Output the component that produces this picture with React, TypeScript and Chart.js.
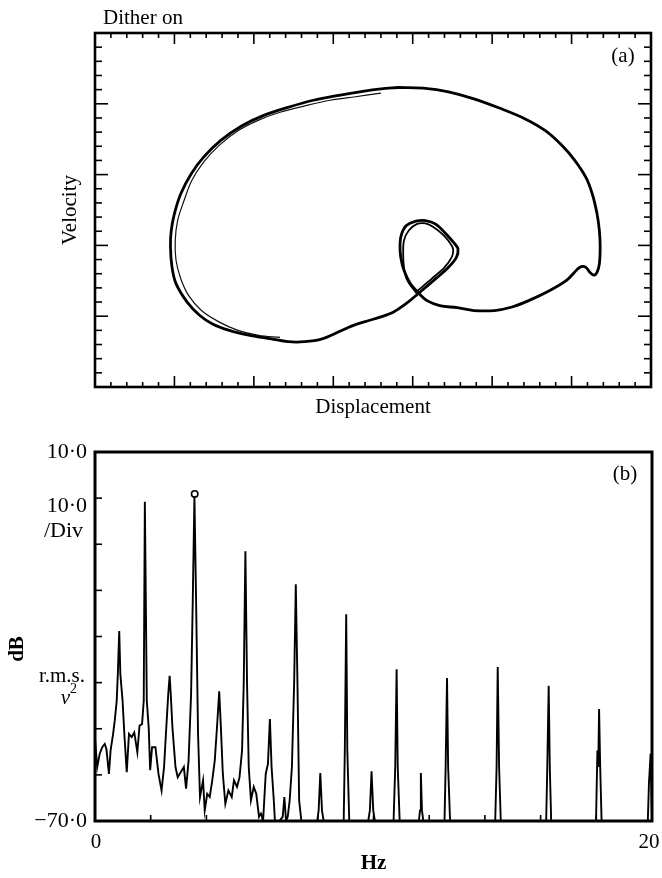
import React, { useEffect, useRef } from 'react';
import { Chart, registerables } from 'chart.js';

Chart.register(...registerables);

// ---------- Panel (a): phase portrait (displacement in divisions, velocity in divisions)
const loopX = [3.81, 4.13, 4.45, 4.77, 5.09, 5.41, 5.67, 5.88, 6.04, 6.18, 6.26, 6.32, 6.35, 6.36, 6.35, 6.32, 6.28, 6.23, 6.18, 6.12, 6.07, 5.94, 5.72, 5.46, 5.25, 5.03, 4.77, 4.56, 4.34, 4.18, 4.08, 3.97, 3.89, 3.85, 3.84, 3.86, 3.92, 4.03, 4.16, 4.29, 4.42, 4.53, 4.57, 4.55, 4.45, 4.29, 4.08, 3.92, 3.76, 3.60, 3.39, 3.23, 3.07, 2.86, 2.64, 2.43, 2.22, 1.95, 1.69, 1.48, 1.32, 1.16, 1.02, 0.97, 0.95, 0.96, 1.00, 1.08, 1.21, 1.37, 1.58, 1.85, 2.11, 2.43, 2.75, 3.07, 3.39, 3.60, 3.81];
const loopY = [4.23, 4.22, 4.17, 4.07, 3.94, 3.79, 3.62, 3.41, 3.20, 2.96, 2.73, 2.45, 2.21, 1.98, 1.74, 1.62, 1.58, 1.62, 1.69, 1.70, 1.66, 1.51, 1.36, 1.22, 1.13, 1.08, 1.08, 1.12, 1.15, 1.22, 1.32, 1.46, 1.65, 1.83, 2.02, 2.16, 2.28, 2.34, 2.35, 2.30, 2.16, 2.02, 1.95, 1.83, 1.69, 1.53, 1.33, 1.18, 1.06, 0.99, 0.92, 0.86, 0.78, 0.68, 0.64, 0.64, 0.68, 0.73, 0.80, 0.89, 1.01, 1.20, 1.46, 1.69, 1.98, 2.21, 2.45, 2.73, 3.01, 3.25, 3.48, 3.69, 3.83, 3.95, 4.05, 4.12, 4.18, 4.21, 4.23];

const innerX = [3.60, 3.28, 2.96, 2.64, 2.33, 2.06, 1.80, 1.56, 1.37, 1.22, 1.12, 1.04, 1.01, 1.02, 1.08, 1.18, 1.34, 1.56, 1.80, 2.06, 2.33];
const innerY = [4.15, 4.10, 4.05, 3.97, 3.88, 3.77, 3.62, 3.41, 3.18, 2.92, 2.63, 2.35, 2.07, 1.79, 1.53, 1.29, 1.08, 0.92, 0.80, 0.73, 0.70];

const smallX = [4.05, 3.93, 3.89, 3.88, 3.89, 3.95, 4.05, 4.16, 4.26, 4.39, 4.49, 4.51, 4.49, 4.40, 4.24, 4.05];
const smallY = [1.32, 1.51, 1.69, 1.88, 2.07, 2.21, 2.30, 2.31, 2.26, 2.14, 2.00, 1.93, 1.83, 1.69, 1.53, 1.35];

// ---------- Panel (b): spectrum (Hz, dB)
const specHz = [0, 0.08, 0.17, 0.26, 0.35, 0.41, 0.50, 0.56, 0.65, 0.71, 0.78, 0.82, 0.87, 0.91, 0.99, 1.06, 1.14, 1.22, 1.32, 1.41, 1.52, 1.60, 1.69, 1.75, 1.79, 1.86, 1.93, 1.98, 2.05, 2.17, 2.28, 2.39, 2.48, 2.56, 2.63, 2.68, 2.72, 2.78, 2.89, 2.97, 3.04, 3.12, 3.19, 3.27, 3.36, 3.45, 3.51, 3.57, 3.63, 3.70, 3.77, 3.88, 3.94, 4.03, 4.12, 4.21, 4.30, 4.38, 4.46, 4.52, 4.59, 4.68, 4.79, 4.91, 4.99, 5.10, 5.19, 5.28, 5.34, 5.40, 5.46, 5.52, 5.60, 5.70, 5.79, 5.89, 5.96, 6.04, 6.13, 6.21, 6.28, 6.34, 6.42, 6.46, 6.62, 6.74, 6.80, 6.86, 6.92, 6.99, 7.07, 7.15, 7.21, 7.27, 7.33, 7.41, 7.98, 8.03, 8.09, 8.15, 8.21, 8.93, 8.97, 9.02, 9.06, 9.13, 9.81, 9.87, 9.93, 9.99, 10.05, 10.72, 10.78, 10.83, 10.87, 10.94, 11.63, 11.67, 11.70, 11.74, 11.79, 12.55, 12.59, 12.64, 12.68, 12.75, 14.37, 14.42, 14.46, 14.51, 14.57, 16.20, 16.24, 16.29, 16.33, 16.38, 17.99, 18.04, 18.07, 18.10, 18.14, 18.19, 19.85, 19.89, 19.95, 20.0];
const specDb = [-52.2, -58.3, -55.4, -54.0, -53.3, -54.4, -59.8, -54.7, -51.1, -48.2, -43.9, -38.1, -28.8, -38.1, -43.9, -51.8, -59.4, -51.1, -51.8, -50.8, -55.1, -49.3, -49.0, -43.9, -0.8, -43.9, -50.0, -59.0, -54.0, -54.0, -59.8, -63.4, -58.3, -49.7, -42.5, -38.5, -42.5, -49.7, -58.3, -60.5, -59.8, -59.0, -58.3, -63.0, -56.9, -42.5, -22.3, 0.4, -22.3, -51.1, -64.8, -61.2, -67.7, -64.1, -64.8, -61.2, -56.9, -49.7, -41.9, -49.7, -59.8, -66.3, -63.4, -64.8, -61.2, -62.6, -60.5, -54.7, -40.3, -11.5, -40.3, -58.3, -65.5, -62.6, -64.1, -69.1, -68.4, -69.5, -59.8, -57.6, -47.9, -58.3, -65.5, -70, -70, -69.1, -64.8, -70, -69.1, -65.5, -58.3, -40.3, -18.7, -40.3, -65.5, -70, -70, -67.7, -59.6, -67.7, -70, -70, -54.7, -25.2, -54.7, -70, -70, -67.7, -59.2, -67.7, -70, -70, -58.3, -37.1, -58.3, -70, -70, -67.7, -59.6, -67.7, -70, -70, -58.3, -39.0, -58.3, -70, -70, -58.3, -36.6, -58.3, -70, -70, -58.3, -40.7, -58.3, -70, -70, -54.7, -58.3, -45.7, -58.3, -70, -70, -61.9, -55.4, -70];

const markerHz = [3.58];
const markerDb = [0.9];

const dbTickValues = [10, -70];
const dbTickLabels = ['10·0', '−70·0'];
const hzTickValues = [0, 20];
const hzTickLabels = ['0', '20'];

const SERIF = '"Liberation Serif", "Times New Roman", serif';

const pts = (xs: number[], ys: number[]) => xs.map((x, i) => ({ x, y: ys[i] }));

function line(ctx: CanvasRenderingContext2D, x1: number, y1: number, x2: number, y2: number) {
  ctx.beginPath();
  ctx.moveTo(x1, y1);
  ctx.lineTo(x2, y2);
  ctx.stroke();
}

const frameA = {
  id: 'frameA',
  afterDatasetsDraw(chart: any) {
    const { ctx, chartArea: a, scales } = chart;
    const xs = scales.x;
    const ys = scales.y;
    ctx.save();
    ctx.strokeStyle = '#000';
    ctx.lineWidth = 1.6;
    for (let i = 0; i <= 35; i++) {
      const px = xs.getPixelForValue(i * 0.2);
      const L = i % 5 === 0 ? 11 : 5;
      line(ctx, px, a.top, px, a.top + L);
      line(ctx, px, a.bottom, px, a.bottom - L);
    }
    for (let i = 0; i <= 25; i++) {
      const py = ys.getPixelForValue(i * 0.2);
      const L = i % 5 === 0 ? 13 : 7;
      line(ctx, a.left, py, a.left + L, py);
      line(ctx, a.right, py, a.right - L, py);
    }
    ctx.lineWidth = 2.6;
    ctx.strokeRect(a.left, a.top, a.right - a.left, a.bottom - a.top);

    ctx.fillStyle = '#000';
    ctx.font = `21px ${SERIF}`;
    ctx.textAlign = 'left';
    ctx.textBaseline = 'alphabetic';
    ctx.fillText('Dither on', a.left + 8, a.top - 9);
    ctx.textAlign = 'center';
    ctx.textBaseline = 'middle';
    ctx.fillText('(a)', a.right - 28, a.top + 23);
    ctx.textBaseline = 'alphabetic';
    ctx.fillText('Displacement', (a.left + a.right) / 2, a.bottom + 26);
    ctx.save();
    ctx.translate(a.left - 25, (a.top + a.bottom) / 2);
    ctx.rotate(-Math.PI / 2);
    ctx.textBaseline = 'middle';
    ctx.fillText('Velocity', 0, 0);
    ctx.restore();
    ctx.restore();
  },
};

const frameB = {
  id: 'frameB',
  afterDatasetsDraw(chart: any) {
    const { ctx, chartArea: a, scales } = chart;
    const xs = scales.x;
    const ys = scales.y;
    ctx.save();
    ctx.strokeStyle = '#000';
    ctx.lineWidth = 1.6;
    for (let v = -70; v <= 10; v += 10) {
      const py = ys.getPixelForValue(v);
      line(ctx, a.left, py, a.left + 7, py);
    }
    for (let v = 0; v <= 20; v += 2) {
      const px = xs.getPixelForValue(v);
      line(ctx, px, a.bottom, px, a.bottom - 6);
    }
    ctx.lineWidth = 3;
    ctx.strokeRect(a.left, a.top, a.right - a.left, a.bottom - a.top);

    ctx.fillStyle = '#000';
    ctx.textBaseline = 'middle';
    ctx.font = `22px ${SERIF}`;
    ctx.textAlign = 'right';
    dbTickValues.forEach((v, i) => {
      ctx.fillText(dbTickLabels[i], a.left - 8, ys.getPixelForValue(v));
    });
    ctx.fillText('10·0', a.left - 8, a.top + 54);
    ctx.fillText('/Div', a.left - 12, a.top + 79);
    ctx.font = `21px ${SERIF}`;
    ctx.fillText('r.m.s.', a.left - 10, a.top + 224);
    ctx.font = `italic 21px ${SERIF}`;
    ctx.fillText('v', a.left - 25, a.top + 246);
    ctx.font = `14px ${SERIF}`;
    ctx.textAlign = 'left';
    ctx.fillText('2', a.left - 25, a.top + 237);

    ctx.font = `21px ${SERIF}`;
    ctx.textAlign = 'center';
    hzTickValues.forEach((v, i) => {
      ctx.fillText(hzTickLabels[i], xs.getPixelForValue(v) + (i === 0 ? 1 : -3), a.bottom + 21);
    });
    ctx.fillText('(b)', a.right - 27, a.top + 22);
    ctx.font = `bold 21px ${SERIF}`;
    ctx.fillText('Hz', (a.left + a.right) / 2, a.bottom + 43);
    ctx.save();
    ctx.translate(18, a.top + 197);
    ctx.rotate(-Math.PI / 2);
    ctx.fillText('dB', 0, 0);
    ctx.restore();
    ctx.restore();
  },
};

export default function App() {
  const refA = useRef<HTMLCanvasElement>(null);
  const refB = useRef<HTMLCanvasElement>(null);

  useEffect(() => {
    const chartA = new Chart(refA.current as HTMLCanvasElement, {
      type: 'scatter',
      data: {
        datasets: [
          { data: pts(loopX, loopY), showLine: true, borderColor: '#000', borderWidth: 2.8, pointRadius: 0, tension: 0.35 },
          { data: pts(innerX, innerY), showLine: true, borderColor: '#111', borderWidth: 1.2, pointRadius: 0, tension: 0.35 },
          { data: pts(smallX, smallY), showLine: true, borderColor: '#000', borderWidth: 1.8, pointRadius: 0, tension: 0.35 },
        ],
      },
      options: {
        animation: false,
        responsive: false,
        devicePixelRatio: 1,
        layout: { padding: { left: 95, top: 33, right: 11, bottom: 43 } },
        plugins: { legend: { display: false }, tooltip: { enabled: false } },
        scales: {
          x: { type: 'linear', min: 0, max: 7, display: false },
          y: { type: 'linear', min: 0, max: 5, display: false },
        },
      },
      plugins: [frameA],
    });

    const chartB = new Chart(refB.current as HTMLCanvasElement, {
      type: 'scatter',
      data: {
        datasets: [
          { data: pts(specHz, specDb), showLine: true, borderColor: '#000', borderWidth: 1.9, pointRadius: 0, tension: 0 },
          { data: pts(markerHz, markerDb), showLine: false, pointRadius: 3.2, pointStyle: 'circle', pointBackgroundColor: '#fff', pointBorderColor: '#000', pointBorderWidth: 1.6 },
        ],
      },
      options: {
        animation: false,
        responsive: false,
        devicePixelRatio: 1,
        layout: { padding: { left: 95, top: 22, right: 10, bottom: 57 } },
        plugins: { legend: { display: false }, tooltip: { enabled: false } },
        scales: {
          x: { type: 'linear', min: 0, max: 20, display: false },
          y: { type: 'linear', min: -70, max: 10, display: false },
        },
      },
      plugins: [frameB],
    });

    return () => {
      chartA.destroy();
      chartB.destroy();
    };
  }, []);

  return (
    <div>
      <canvas ref={refA} width={662} height={430} style={{ position: 'absolute', left: 0, top: 0, width: 662, height: 430 }} />
      <canvas ref={refB} width={662} height={448} style={{ position: 'absolute', left: 0, top: 430, width: 662, height: 448 }} />
    </div>
  );
}
